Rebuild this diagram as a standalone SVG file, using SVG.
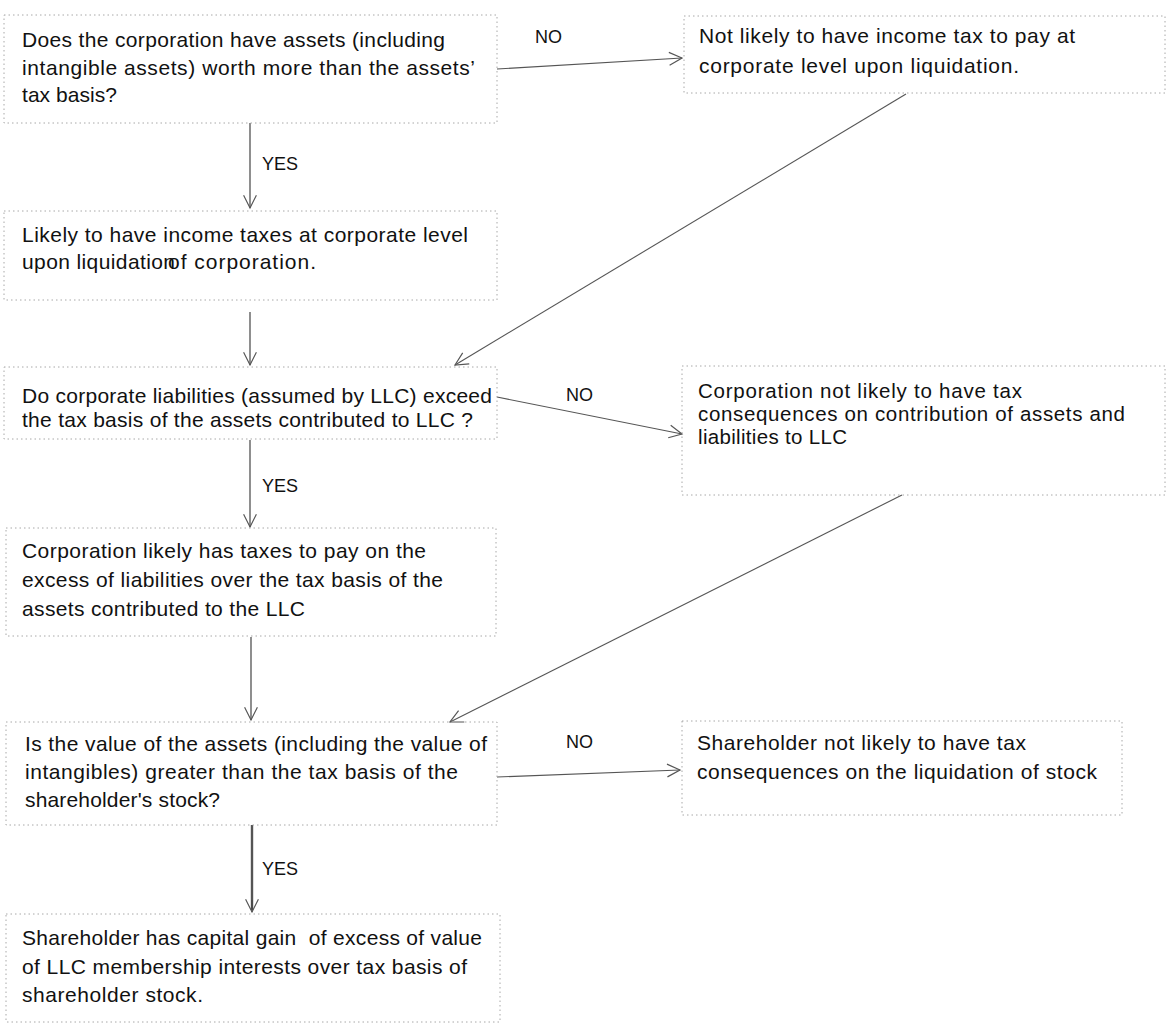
<svg xmlns="http://www.w3.org/2000/svg" width="1168" height="1024" viewBox="0 0 1168 1024">
<style>
.bg{fill:#ffffff}
.box{fill:none;stroke:#a8a8a8;stroke-width:1;stroke-dasharray:1.5 3}
.t{font-family:"Liberation Sans",Arial,sans-serif;font-size:21px;fill:#111111}
.ts{font-family:"Liberation Sans",Arial,sans-serif;font-size:20.5px;fill:#111111}
.lbl{font-family:"Liberation Sans",Arial,sans-serif;font-size:18px;fill:#111111}
.c{fill:none;stroke:#555;stroke-width:1.1}
.cv{fill:none;stroke:#444;stroke-width:1.2}
.thick{fill:none;stroke:#555;stroke-width:2.4}
</style>
<defs>
<marker id="ah" markerUnits="userSpaceOnUse" markerWidth="16" markerHeight="16" refX="12" refY="6" orient="auto" viewBox="-1 -1 15 14">
<path d="M0,0 L12,6 L0,12" fill="none" stroke="#555" stroke-width="1.1"/>
</marker>
</defs>
<rect class="bg" x="0" y="0" width="1168" height="1024"/>

<g id="connectors">
<line class="cv" x1="250" y1="123" x2="250" y2="208" marker-end="url(#ah)"/>
<line class="cv" x1="250" y1="312" x2="250" y2="365" marker-end="url(#ah)"/>
<line class="cv" x1="250" y1="440" x2="250" y2="527" marker-end="url(#ah)"/>
<line class="cv" x1="251" y1="637" x2="251" y2="720" marker-end="url(#ah)"/>
<line class="thick" x1="252" y1="825" x2="252" y2="910"/>
<line class="cv" x1="252" y1="900" x2="252" y2="912" marker-end="url(#ah)"/>
<line class="c" x1="497" y1="69" x2="682" y2="58" marker-end="url(#ah)"/>
<line class="c" x1="497" y1="397" x2="682" y2="434" marker-end="url(#ah)"/>
<line class="c" x1="497" y1="777" x2="680" y2="770" marker-end="url(#ah)"/>
<line class="c" x1="906" y1="94" x2="455" y2="365" marker-end="url(#ah)"/>
<line class="c" x1="902" y1="495" x2="450" y2="722" marker-end="url(#ah)"/>
<text class="lbl" x="262" y="170">YES</text>
<text class="lbl" x="262" y="492">YES</text>
<text class="lbl" x="262" y="875">YES</text>
<text class="lbl" x="535" y="43">NO</text>
<text class="lbl" x="566" y="401">NO</text>
<text class="lbl" x="566" y="748">NO</text>
</g>

<g id="n1">
<rect class="box" x="4" y="15" width="493" height="108"/>
<text class="t" x="22" y="47" textLength="423">Does the corporation have assets (including</text>
<text class="t" x="22" y="75" textLength="453">intangible assets) worth more than the assets’</text>
<text class="t" x="22" y="102" textLength="95">tax basis?</text>
</g>

<g id="n2">
<rect class="box" x="684" y="16" width="481" height="77"/>
<text class="t" x="699" y="43" textLength="376">Not likely to have income tax to pay at</text>
<text class="t" x="699" y="73" textLength="320">corporate level upon liquidation.</text>
</g>

<g id="n3">
<rect class="box" x="4" y="211" width="493" height="89"/>
<text class="t" x="22" y="242" textLength="446">Likely to have income taxes at corporate level</text>
<text class="t" x="22" y="269" textLength="153">upon liquidation</text>
<text class="t" x="168" y="269" textLength="148">of corporation.</text>
</g>

<g id="n4">
<rect class="box" x="4" y="367" width="493" height="72"/>
<text class="t" x="22" y="403" textLength="470">Do corporate liabilities (assumed by LLC) exceed</text>
<text class="t" x="22" y="427" textLength="451">the tax basis of the assets contributed to LLC ?</text>
</g>

<g id="n5">
<rect class="box" x="682" y="366" width="483" height="129"/>
<text class="ts" x="698" y="398" textLength="324">Corporation not likely to have tax</text>
<text class="ts" x="698" y="421" textLength="427">consequences on contribution of assets and</text>
<text class="ts" x="698" y="444" textLength="149">liabilities to LLC</text>
</g>

<g id="n6">
<rect class="box" x="6" y="528" width="490" height="108"/>
<text class="t" x="22" y="558" textLength="404">Corporation likely has taxes to pay on the</text>
<text class="t" x="22" y="587" textLength="421">excess of liabilities over the tax basis of the</text>
<text class="t" x="22" y="616" textLength="283">assets contributed to the LLC</text>
</g>

<g id="n7">
<rect class="box" x="6" y="722" width="491" height="103"/>
<text class="t" x="25" y="751" textLength="462">Is the value of the assets (including the value of</text>
<text class="t" x="25" y="779" textLength="433">intangibles) greater than the tax basis of the</text>
<text class="t" x="25" y="807" textLength="195">shareholder's stock?</text>
</g>

<g id="n8">
<rect class="box" x="682" y="721" width="440" height="94"/>
<text class="t" x="697" y="750" textLength="329">Shareholder not likely to have tax</text>
<text class="t" x="697" y="779" textLength="400">consequences on the liquidation of stock</text>
</g>

<g id="n9">
<rect class="box" x="6" y="914" width="494" height="108"/>
<text class="t" x="22" y="945" textLength="460" xml:space="preserve">Shareholder has capital gain  of excess of value</text>
<text class="t" x="22" y="974" textLength="445">of LLC membership interests over tax basis of</text>
<text class="t" x="22" y="1002" textLength="181">shareholder stock.</text>
</g>
</svg>
